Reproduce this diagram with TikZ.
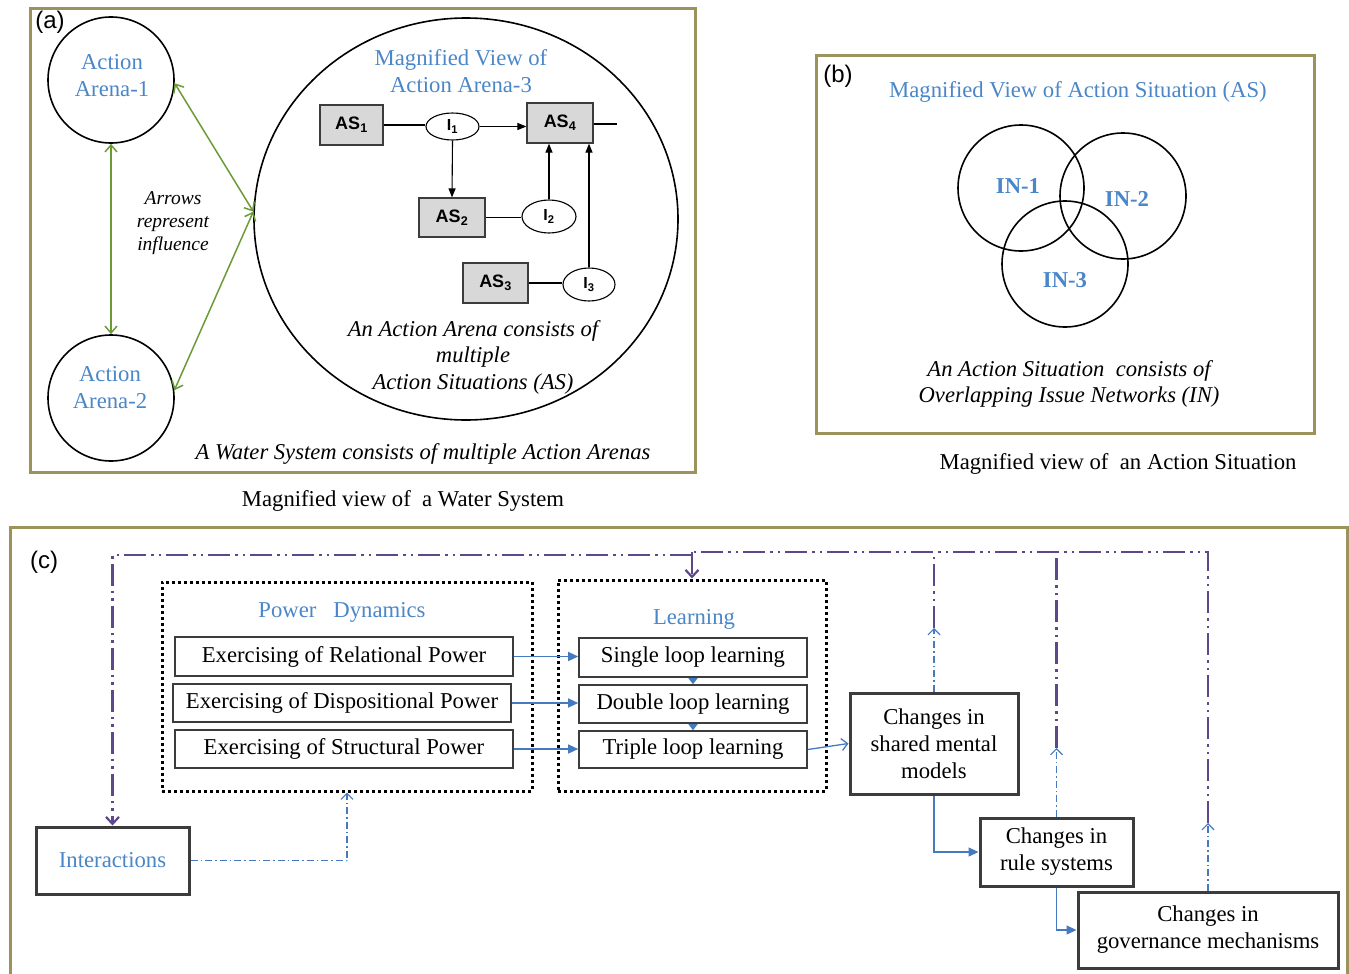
\documentclass[tikz,border=0pt]{standalone}
\usepackage{fontspec}
\setmainfont{Liberation Serif}
\setsansfont{Liberation Sans}
\usetikzlibrary{arrows.meta,shapes.geometric,calc}
\definecolor{frameol}{RGB}{155,146,92}
\definecolor{bluetx}{RGB}{74,134,200}
\definecolor{blueln}{RGB}{70,122,192}
\definecolor{purpl}{RGB}{94,72,140}
\definecolor{grnln}{RGB}{107,155,55}
\definecolor{boxgr}{RGB}{60,60,60}
\definecolor{asfill}{RGB}{216,216,216}
\begin{document}
\begin{tikzpicture}[x=1pt,y=-1pt,
  t22/.style={font=\fontsize{22.7}{27}\selectfont, align=center, inner sep=0pt},
  it22/.style={font=\fontsize{22.6}{26.5}\selectfont\itshape, align=center, inner sep=0pt},
  sanslab/.style={font=\fontsize{24}{28}\selectfont\sffamily, inner sep=0pt},
  framebox/.style={draw=frameol, line width=3pt},
  vcirc/.style={draw, circle, line width=1.6pt, minimum size=126pt, inner sep=0pt},
  asbox/.style={draw=boxgr, fill=asfill, line width=1.2pt, inner sep=0pt, font=\fontsize{18}{20}\selectfont\sffamily\bfseries},
  ibox/.style={draw=black, ellipse, line width=1.1pt, inner sep=0pt, font=\fontsize{16}{18}\selectfont\sffamily\bfseries},
  ktip/.style={-{Triangle[length=9pt,width=7pt]}},
  grn/.style={draw=grnln, line width=1.5pt, {Straight Barb[length=7pt,width=12pt]}-{Straight Barb[length=7pt,width=12pt]}},
  pbox/.style={draw=boxgr, line width=1.6pt, inner sep=0pt, t22},
  cbox/.style={draw=boxgr, line width=3pt, inner sep=0pt, t22},
  dotbox/.style={draw=black, line width=3pt, dash pattern=on 3pt off 3pt, inner sep=0pt},
  bline/.style={draw=blueln, line width=1.3pt},
  btip/.style={-{Triangle[length=10pt,width=9pt]}},
  obtip/.style={-{Straight Barb[length=6pt,width=12pt]}},
  bdash/.style={draw=blueln, line width=1.2pt, dash pattern=on 7pt off 3pt on 1.5pt off 3pt},
  purp/.style={draw=purpl, line width=2.2pt, dash pattern=on 22pt off 5pt on 2.5pt off 5pt on 2.5pt off 5pt},
  ptip/.style={-{Straight Barb[length=7pt,width=13pt]}}
]
\useasboundingbox (0,0) rectangle (1349,974);

% ---------------- Panel (a)
\draw[framebox] (30,9) rectangle (695,472);
\node[sanslab] (la) at (50,22) {(a)};
\node[vcirc] (A1) at (111,80) {};
\node[vcirc] (A2) at (111,398) {};
\node[t22, text=bluetx] (A1t) at (112,76) {Action\\Arena-1};
\node[t22, text=bluetx] (A2t) at (110,388) {Action\\Arena-2};
\node[draw, ellipse, line width=1.6pt, minimum width=424pt, minimum height=402pt, inner sep=0pt] (A3) at (466,219) {};
\draw[grn] (A1.-3) -- (A3.178);
\draw[grn] (A2.7) -- (A3.178);
\draw[grn] (A1.south) -- (A2.north);
\node[font=\fontsize{19.5}{23}\selectfont\itshape, align=center, inner sep=0pt] (note) at (173,223) {Arrows\\represent\\influence};
\node[t22, text=bluetx] (A3t) at (461,71) {Magnified View of\\Action Arena-3};

\node[asbox, minimum width=63pt, minimum height=40pt] (AS1) at (351.5,125) {AS\textsubscript{1}};
\node[asbox, minimum width=66pt, minimum height=40pt] (AS4) at (560,123) {AS\textsubscript{4}};
\node[asbox, minimum width=66pt, minimum height=39pt] (AS2) at (452,217.5) {AS\textsubscript{2}};
\node[asbox, minimum width=65pt, minimum height=40pt] (AS3) at (495.5,283) {AS\textsubscript{3}};
\node[ibox, minimum width=53pt, minimum height=27pt] (I1) at (452.5,126.5) {I\textsubscript{1}};
\node[ibox, minimum width=54pt, minimum height=33pt] (I2) at (549,216.5) {I\textsubscript{2}};
\node[ibox, minimum width=52pt, minimum height=33pt] (I3) at (589,284.5) {I\textsubscript{3}};
\coordinate (AS4end) at (617,124);
\draw[line width=1.1pt] (AS1.east) -- (AS1.east -| I1.west);
\draw[line width=1.1pt, ktip] (I1.east) -- (I1.east -| AS4.west);
\draw[line width=1.1pt, ktip] (I1.south) -- (AS2.north);
\draw[line width=1.1pt] (AS2.east) -- (AS2.east -| I2.west);
\draw[line width=1.1pt, ktip] (I2.north) -- (I2.north |- AS4.south);
\draw[line width=1.1pt] (AS3.east) -- (AS3.east -| I3.west);
\draw[line width=1.1pt, ktip] (I3.north) -- (I3.north |- AS4.south);
\draw[line width=1.1pt] (AS4.east |- AS4end) -- (AS4end);

\node[it22] (A3c) at (473,357) {An Action Arena consists of\\multiple\\Action Situations (AS)};
\node[it22] (wsys) at (423,454) {A Water System consists of multiple Action Arenas};
\node[t22] (capa) at (403,501) {Magnified view of \ a Water System};

% ---------------- Panel (b)
\draw[framebox] (816,56) rectangle (1314,433);
\node[sanslab] (lb) at (838,76) {(b)};
\node[t22, text=bluetx] (bt) at (1078,92) {Magnified View of Action Situation (AS)};
\node[vcirc] (IN1) at (1021,188) {};
\node[vcirc] (IN2) at (1123,196) {};
\node[vcirc] (IN3) at (1065,264) {};
\node[t22, font=\fontsize{22.7}{27}\selectfont\bfseries, text=bluetx] (in1) at (1018,186) {IN-1};
\node[t22, font=\fontsize{22.7}{27}\selectfont\bfseries, text=bluetx] (in2) at (1127,199) {IN-2};
\node[t22, font=\fontsize{22.7}{27}\selectfont\bfseries, text=bluetx] (in3) at (1065,280) {IN-3};
\node[it22] (bc) at (1069,384) {An Action Situation \ consists of\\Overlapping Issue Networks (IN)};
\node[t22] (capb) at (1118,464) {Magnified view of \ an Action Situation};

% ---------------- Panel (c)
\draw[framebox] (10,980) -- (10,527) -- (1347,527) -- (1347,980);
\node[sanslab] (lc) at (44,562) {(c)};

\node[dotbox, minimum width=370pt, minimum height=209pt] (PD) at (347,686.5) {};
\node[t22, text=bluetx] (pdt) at (342,612) {Power \ \ Dynamics};
\node[pbox, minimum width=338pt, minimum height=39pt] (R) at (344,656.5) {Exercising of Relational Power};
\node[pbox, minimum width=338pt, minimum height=38pt] (D) at (342,703) {Exercising of Dispositional Power};
\node[pbox, minimum width=338pt, minimum height=38pt] (S) at (344,749) {Exercising of Structural Power};

\node[dotbox, minimum width=268pt, minimum height=211pt] (L) at (692,685.5) {};
\node[t22, text=bluetx] (lt) at (694,619) {Learning};
\node[pbox, minimum width=228pt, minimum height=39pt] (SL) at (693,657.5) {Single loop learning};
\node[pbox, minimum width=228pt, minimum height=38pt] (DL) at (693,704) {Double loop learning};
\node[pbox, minimum width=228pt, minimum height=37pt] (TL) at (693,749.5) {Triple loop learning};

\node[cbox, minimum width=168pt, minimum height=101pt] (SM) at (934,743.5) {Changes in\\shared mental\\models};
\node[cbox, minimum width=153pt, minimum height=68pt] (RS) at (1056.5,852) {Changes in\\rule systems};
\node[cbox, minimum width=260pt, minimum height=76pt] (GM) at (1208,930) {Changes in\\governance mechanisms};
\node[cbox, minimum width=153pt, minimum height=67pt, text=bluetx] (INT) at (112.5,860.5) {Interactions};

% blue connectors
\draw[bline, btip] (R.east) -- (R.east -| SL.west);
\draw[bline, btip] (D.east) -- (D.east -| DL.west);
\draw[bline, btip] (S.east) -- (S.east -| TL.west);
\draw[bline, -{Triangle[length=6pt,width=9pt]}] (SL.south) -- (DL.north);
\draw[bline, -{Triangle[length=6pt,width=9pt]}] (DL.south) -- (TL.north);
\draw[bline, obtip] (TL.east) -- (SM.west);
\draw[bline, btip] (SM.south) |- (RS.west);
\draw[bline, btip] (RS.south) |- (GM.west);
\draw[bdash, obtip] (INT.east) -| (PD.south);

% feedback paths
\coordinate (smA) at (934,628);
\coordinate (rsA) at (1056.5,748);
\coordinate (gmA) at (1208,823);
\coordinate (fbR) at (1208,552);
\coordinate (fbL) at (692,552);
\coordinate (fbM) at (692,555);
\coordinate (fbI) at (112.5,555);
\draw[bdash, obtip] (SM.north) -- (smA);
\draw[bdash, obtip] (RS.north) -- (rsA);
\draw[bdash, obtip] (GM.north) -- (gmA);
\draw[purp] (smA) -- (smA |- fbR);
\draw[purp] (rsA) -- (rsA |- fbR);
\draw[purp] (gmA) -- (fbR) -- (fbL);
\draw[purp, ptip] (fbL) -- (L.north);
\draw[purp, ptip] (fbM) -- (fbI) -- (INT.north);
\end{tikzpicture}
\end{document}
